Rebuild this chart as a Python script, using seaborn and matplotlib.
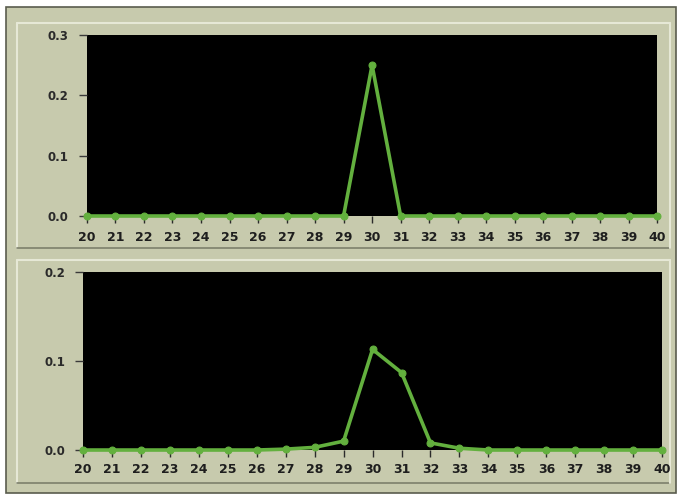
import numpy as np
import pandas as pd
import seaborn as sns
import matplotlib
matplotlib.use("Agg")
import matplotlib.pyplot as plt
from matplotlib.patches import Rectangle
from matplotlib.lines import Line2D

x_vals = list(range(20, 41))
top_vals = [0, 0, 0, 0, 0, 0, 0, 0, 0, 0, 0.25, 0, 0, 0, 0, 0, 0, 0, 0, 0, 0]
bottom_vals = [0, 0, 0, 0, 0, 0, 0, 0.001, 0.003, 0.01, 0.113, 0.087, 0.008, 0.002,
               0, 0, 0, 0, 0, 0, 0]
top_yticks = [0.0, 0.1, 0.2, 0.3]
bottom_yticks = [0.0, 0.1, 0.2]

sns.set_style("white")
plt.rcParams['font.family'] = ['DejaVu Sans']

bg = "#c7caad"
line_col = "#63b03e"
W, H = 679.0, 496.0

fig = plt.figure(figsize=(6.79, 4.96), dpi=100, facecolor="white")

def fx(px):
    return px / W

def fy(py):
    return 1 - py / H

# outer panel
fig.patches.append(Rectangle((fx(6), fy(493)), fx(670), 486 / H, transform=fig.transFigure,
                             facecolor=bg, edgecolor="#5a5c4e", linewidth=1.2, zorder=-20))

def bevel(x0, y0, x1, y1):
    light = "#e6e8d6"
    dark = "#7d806c"
    kw = dict(transform=fig.transFigure, zorder=-10)
    fig.lines.append(Line2D([fx(x0), fx(x1)], [fy(y0), fy(y0)], color=light, lw=1.5, **kw))
    fig.lines.append(Line2D([fx(x0), fx(x0)], [fy(y0), fy(y1)], color=light, lw=1.5, **kw))
    fig.lines.append(Line2D([fx(x0), fx(x1)], [fy(y1), fy(y1)], color=dark, lw=1.2, **kw))
    fig.lines.append(Line2D([fx(x1), fx(x1)], [fy(y0), fy(y1)], color=light, lw=1.5, **kw))

bevel(17, 23, 670, 248)
bevel(17, 260, 670, 483)

ax1 = fig.add_axes([0.128, 0.5645, 0.840, 0.365])
ax2 = fig.add_axes([0.1222, 0.0927, 0.853, 0.359])

df_top = pd.DataFrame({"x": x_vals, "y": top_vals})
df_bot = pd.DataFrame({"x": x_vals, "y": bottom_vals})

for ax, df, yt, ymax, xpad in [(ax1, df_top, top_yticks, 0.3, 6), (ax2, df_bot, bottom_yticks, 0.2, 4)]:
    ax.set_facecolor("black")
    sns.lineplot(data=df, x="x", y="y", ax=ax, color=line_col, linewidth=2.6,
                 marker="o", markersize=5, markeredgecolor=line_col, clip_on=False)
    ax.set_xlim(20, 40)
    ax.set_ylim(0, ymax)
    ax.set_xticks(x_vals)
    ax.set_xticklabels([str(v) for v in x_vals])
    ax.set_yticks(yt)
    ax.set_yticklabels([f"{v:.1f}" for v in yt])
    ax.set_xlabel("")
    ax.set_ylabel("")
    for s in ax.spines.values():
        s.set_visible(False)
    ax.tick_params(axis="x", which="both", direction="out", length=5, width=1,
                   bottom=True, color="#2b2b2b", labelsize=9,
                   labelcolor="#1e1e1e", pad=xpad)
    ax.tick_params(axis="y", which="both", direction="out", length=6, width=1,
                   left=True, color="#3a3a3a", labelsize=8.5,
                   labelcolor="#2a2a2a", pad=7)
    for lab in ax.get_xticklabels() + ax.get_yticklabels():
        lab.set_fontweight("bold")

fig.savefig("out.png", dpi=100, facecolor="white")
